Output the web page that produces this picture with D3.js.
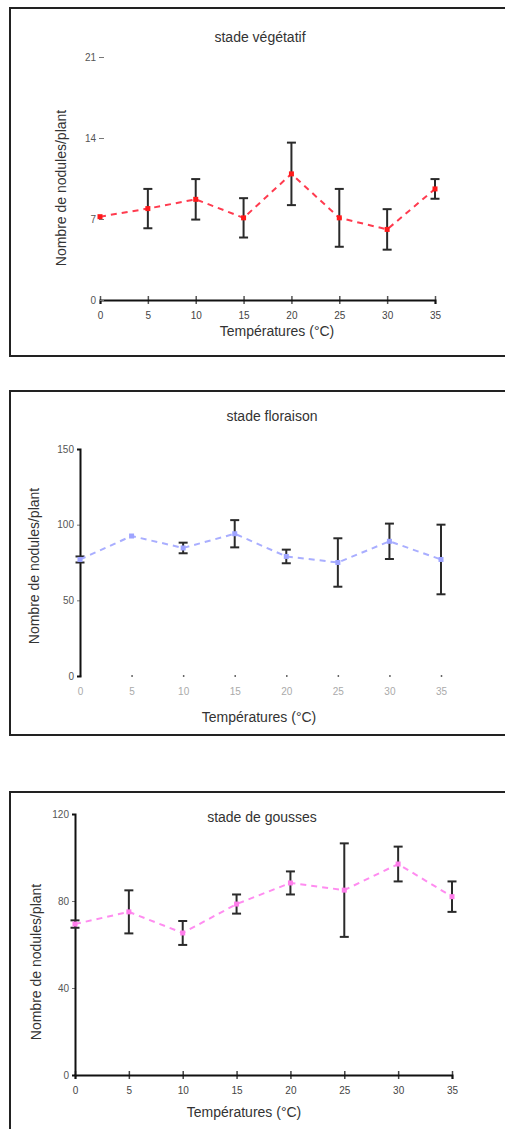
<!DOCTYPE html>
<html>
<head>
<meta charset="utf-8">
<script src="https://cdn.jsdelivr.net/npm/d3@7"></script>
<style>
  html, body { margin: 0; padding: 0; background: #fff; }
  svg { display: block; font-family: "Liberation Sans", Arial, sans-serif; }
</style>
</head>
<body>
<svg id="chart" width="505" height="1129"></svg>
<script>
// Températures de culture (°C)
const temperatures = [0, 5, 10, 15, 20, 25, 30, 35];
const tempTicks = ["0", "5", "10", "15", "20", "25", "30", "35"];

// Stade végétatif : moyenne et écart
const vegetatifMoy = [7.2, 7.9, 8.7, 7.1, 10.9, 7.1, 6.1, 9.6];
const vegetatifErr = [0, 1.7, 1.75, 1.7, 2.7, 2.5, 1.75, 0.85];
const vegetatifYTicks = [0, 7, 14, 21];

// Stade floraison
const floraisonMoy = [77, 92.5, 84.6, 94, 79, 75, 89, 77];
const floraisonErr = [2, 0, 3.5, 9, 4.5, 16, 11.7, 23];
const floraisonYTicks = [0, 50, 100, 150];

// Stade de gousses
const goussesMoy = [69.4, 75, 65.3, 78.6, 88.3, 85, 97, 82];
const goussesErr = [1.7, 9.9, 5.5, 4.4, 5.3, 21.5, 8, 7];
const goussesYTicks = [0, 40, 80, 120];

const titres = ["stade végétatif", "stade floraison", "stade de gousses"];
const labelX = "Températures (°C)";
const labelY = "Nombre de nodules/plant";

const svg = d3.select("#chart");

function panel(opt) {
  const g = svg.append("g");

  // cadre du graphique
  g.append("rect")
    .attr("x", opt.frame[0]).attr("y", opt.frame[1])
    .attr("width", opt.frame[2]).attr("height", opt.frame[3])
    .attr("fill", "none").attr("stroke", "#222").attr("stroke-width", 2);

  const x = d3.scaleLinear().domain([0, 35]).range(opt.xr);
  const y = d3.scaleLinear().domain(opt.ydom).range(opt.yr);

  // axe X
  const ax = g.append("g")
    .attr("transform", `translate(0,${opt.yr[0]})`)
    .call(d3.axisBottom(x).tickValues(temperatures)
      .tickFormat((d, i) => tempTicks[i]).tickSizeOuter(0).tickSize(4).tickPadding(8));
  ax.select(".domain").attr("stroke", "#111").attr("stroke-width", 2)
    .attr("display", opt.xLine ? null : "none");
  ax.selectAll(".tick line").attr("y1", -opt.xTickLen).attr("y2", opt.xTickLen)
    .attr("stroke", opt.xTickColor).attr("stroke-width", 1.5);
  ax.selectAll(".tick text").attr("fill", opt.xLabColor).attr("font-size", 10);

  // axe Y
  const ay = g.append("g")
    .attr("transform", `translate(${opt.xr[0]},0)`)
    .call(d3.axisLeft(y).tickValues(opt.yticks).tickSizeOuter(0).tickSize(opt.yTickSize).tickPadding(4));
  ay.select(".domain").attr("stroke", "#111").attr("stroke-width", 2)
    .attr("display", opt.yLine ? null : "none");
  ay.selectAll(".tick line").attr("stroke", "#777").attr("stroke-width", 1)
    .attr("x1", opt.yTickOffset).attr("x2", opt.yTickOffset - opt.yTickSize);
  ay.selectAll(".tick text").attr("fill", "#555").attr("font-size", 10)
    .attr("x", opt.yTickOffset - opt.yTickSize - 3);
  g.selectAll(".domain").raise();

  // barres d'erreur
  const eb = g.append("g").selectAll("g").data(temperatures).join("g")
    .filter((d, i) => opt.err[i] > 0);
  eb.each(function (d) {
    const i = temperatures.indexOf(d);
    const gg = d3.select(this);
    const cx = x(d), top = y(opt.mean[i] + opt.err[i]), bot = y(opt.mean[i] - opt.err[i]);
    gg.append("line").attr("x1", cx).attr("x2", cx).attr("y1", top).attr("y2", bot)
      .attr("stroke", "#2a2a2a").attr("stroke-width", 2);
    [top, bot].forEach(v => gg.append("line")
      .attr("x1", cx - 4.5).attr("x2", cx + 4.5).attr("y1", v).attr("y2", v)
      .attr("stroke", "#2a2a2a").attr("stroke-width", 2));
  });

  // courbe pointillée
  const line = d3.line().x((d, i) => x(temperatures[i])).y(d => y(d));
  g.append("path").datum(opt.mean).attr("d", line)
    .attr("fill", "none").attr("stroke", opt.color).attr("stroke-width", 2)
    .attr("stroke-dasharray", "6,5");

  // marqueurs
  g.append("g").selectAll("rect").data(opt.mean).join("rect")
    .attr("x", (d, i) => x(temperatures[i]) - 2.5).attr("y", d => y(d) - 2.5)
    .attr("width", 5).attr("height", 5).attr("fill", opt.marker);

  // titres et libellés
  g.append("text").attr("x", opt.title[0]).attr("y", opt.title[1])
    .attr("text-anchor", "middle").attr("font-size", 14).attr("fill", "#333")
    .text(opt.titre);
  g.append("text").attr("x", opt.xl[0]).attr("y", opt.xl[1])
    .attr("text-anchor", "middle").attr("font-size", 14).attr("fill", "#333")
    .text(labelX);
  g.append("text")
    .attr("transform", `translate(${opt.yl[0]},${opt.yl[1]}) rotate(-90)`)
    .attr("text-anchor", "middle").attr("font-size", 14).attr("fill", "#333")
    .text(labelY);
}

panel({
  frame: [10, 8, 520, 348],
  xr: [100, 435], yr: [300, 57], ydom: [0, 21], yticks: vegetatifYTicks,
  mean: vegetatifMoy, err: vegetatifErr,
  color: "#ff3b4f", marker: "#ff1a1a",
  xLine: true, yLine: false, xTickColor: "#555", xLabColor: "#444", xTickLen: 4,
  yTickSize: 5, yTickOffset: 4,
  title: [260, 42], titre: titres[0], xl: [277, 336], yl: [66, 188]
});

panel({
  frame: [10, 391, 520, 344],
  xr: [80, 441], yr: [676, 449], ydom: [0, 150], yticks: floraisonYTicks,
  mean: floraisonMoy, err: floraisonErr,
  color: "#a9aeff", marker: "#9ea4ff",
  xLine: false, yLine: true, xTickColor: "#666", xLabColor: "#aaa", xTickLen: 1,
  yTickSize: 3, yTickOffset: 0,
  title: [272, 421], titre: titres[1], xl: [259, 722], yl: [39, 566]
});

panel({
  frame: [10, 792, 520, 360],
  xr: [75, 452], yr: [1075, 814], ydom: [0, 120], yticks: goussesYTicks,
  mean: goussesMoy, err: goussesErr,
  color: "#ff8cf0", marker: "#ff7deb",
  xLine: true, yLine: true, xTickColor: "#444", xLabColor: "#444", xTickLen: 4,
  yTickSize: 3, yTickOffset: 0,
  title: [262, 822], titre: titres[2], xl: [244, 1117], yl: [41, 962]
});
</script>
</body>
</html>
